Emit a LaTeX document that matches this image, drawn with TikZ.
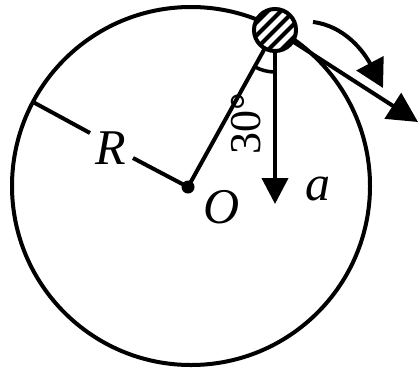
\documentclass[tikz,border=0pt]{standalone}
\usepackage{fontspec}
\setmainfont{Liberation Serif}
\usetikzlibrary{arrows.meta,calc}
\begin{document}
\begin{tikzpicture}[x=1pt,y=-1pt,
  thick line/.style={line width=4pt},
  lbl/.style={font=\fontsize{50}{54}\selectfont\itshape, inner sep=0pt}]
\useasboundingbox (0,0) rectangle (419,375);
\coordinate (C) at (191,186);
\coordinate (O) at (188,187);
\coordinate (B) at (275,30);
\coordinate (Rend) at (33,102);
\coordinate (R1) at (90,133);
\coordinate (R2) at (133,158);
\coordinate (Vtip) at (275,204);
\coordinate (Ttip) at (418,122);
\coordinate (Cs) at (313,22);
\coordinate (Ce) at (383,88);
% circle
\draw[thick line] (C) circle (179);
% radius R
\draw[thick line] (Rend) -- (R1);
\draw[thick line] (R2) -- (O);
\node[lbl] (Rl) at (111,148) {R};
% line to ball
\draw[thick line] (O) -- (B);
\fill (O) circle (6.5);
\node[lbl] (Ol) at (222,207) {O};
% vertical arrow
\draw[thick line, -{Triangle[length=26pt,width=26pt]}] (B) -- (Vtip);
\node[lbl] (al) at (318,189) {a};
% tangent arrow
\draw[thick line, -{Triangle[length=30pt,width=30pt]}] (B) -- (Ttip);
% curved arrow
\draw[thick line, -{Triangle[length=28pt,width=30pt]}] (Cs) .. controls (345,26) and (364,52) .. (Ce);
% angle arc
\draw[line width=3.5pt] ($(B)+(0,42)$) arc[start angle=90, end angle=119, radius=42];
\node[font=\fontsize{44}{46}\selectfont, rotate=90, inner sep=0pt] (ang) at (246,124) {30°};
% ball
\begin{scope}
  \clip (B) circle (21);
  \fill[white] (B) circle (21);
  \foreach \d in {-39,-26,...,39} {
    \draw[line width=4pt] ($(B)+(\d,0)+(-30,30)$) -- ($(B)+(\d,0)+(30,-30)$);
  }
\end{scope}
\draw[line width=4pt] (B) circle (21);
\end{tikzpicture}
\end{document}
